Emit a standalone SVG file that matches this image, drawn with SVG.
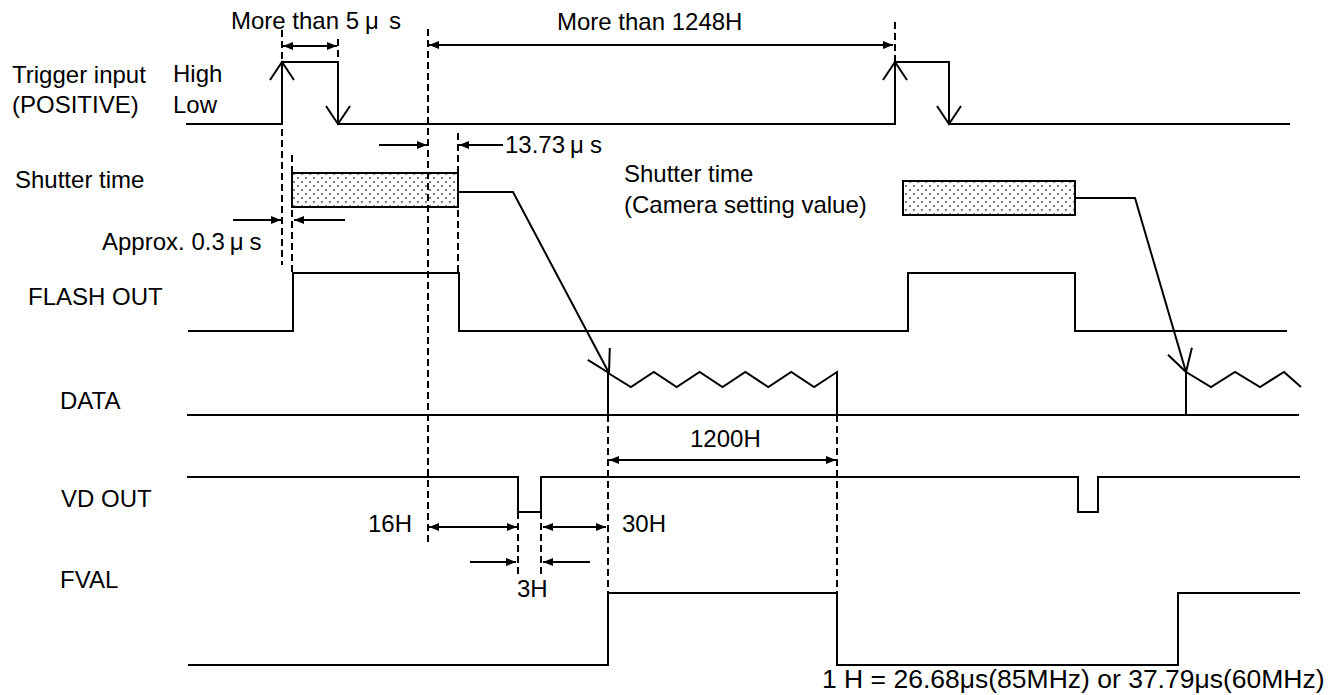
<svg xmlns="http://www.w3.org/2000/svg" width="1344" height="695" viewBox="0 0 1344 695">
<style>
.sig{fill:none;stroke:#000;stroke-width:2;stroke-linejoin:miter}
.thin{fill:none;stroke:#000;stroke-width:2}
.dash{fill:none;stroke:#000;stroke-width:2;stroke-dasharray:7 4}
.dim{fill:none;stroke:#000;stroke-width:2}
.dbl{marker-start:url(#ah);marker-end:url(#ah)}
.one{marker-end:url(#ah)}
text{font-family:"Liberation Sans",Arial,sans-serif;font-size:24px;fill:#000}
.foot{font-size:26.5px}
</style>
<defs>
<marker id="ah" viewBox="0 0 10 8" refX="10" refY="4" markerWidth="10" markerHeight="8" markerUnits="userSpaceOnUse" orient="auto-start-reverse">
<path d="M0,0 L10,4 L0,8 z" fill="#000"/>
</marker>
<pattern id="dots" width="8" height="8" patternUnits="userSpaceOnUse">
<rect width="8" height="8" fill="#fff"/>
<circle cx="2" cy="2" r="0.9" fill="#444"/>
<circle cx="6" cy="6" r="0.9" fill="#444"/>
</pattern>
</defs>
<rect width="1344" height="695" fill="#fff"/>

<g id="labels">
<text x="12" y="83">Trigger input</text>
<text x="12" y="113">(POSITIVE)</text>
<text x="173" y="82">High</text>
<text x="173" y="113">Low</text>
<text x="15" y="188">Shutter time</text>
<text x="28" y="305">FLASH OUT</text>
<text x="60" y="409">DATA</text>
<text x="61" y="507">VD OUT</text>
<text x="60" y="588">FVAL</text>
</g>

<g id="trigger">
<path class="sig" d="M186,124 H282 V62 H338 V124 H895 V62 H949 V124 H1290"/>
<path class="sig" d="M270,80 L282,62 L294,80 M326,106 L338,124 L350,106 M883,80 L895,62 L907,80 M937,106 L949,124 L961,106"/>
</g>

<g id="shutter1">
<rect x="292" y="173" width="166" height="34" fill="url(#dots)" stroke="#000" stroke-width="2"/>
</g>

<g id="shutter2">
<rect x="903" y="181" width="172" height="34" fill="url(#dots)" stroke="#000" stroke-width="2"/>
<text x="624" y="182">Shutter time</text>
<text x="624" y="213">(Camera setting value)</text>
</g>

<g id="flash">
<path class="sig" d="M188,331 H293 V273 H459 V331 H908 V273 H1075 V331 H1287"/>
</g>

<g id="data">
<path class="sig" d="M187,415 H1299"/>
<path class="sig" d="M608,415 V373 L630.9,387 L653.8,372 L676.7,387 L699.6,372 L722.5,387 L745.4,372 L768.3,387 L791.2,372 L814.1,387 L837,372 V415"/>
<path class="sig" d="M1186,415 V372 L1211,387 L1235,372 L1260,387 L1284,372 L1301,387"/>
</g>

<g id="vdout">
<path class="sig" d="M187,477 H518 V512 H541 V477 H1078 V512 H1098 V477 H1300"/>
</g>

<g id="fval">
<path class="sig" d="M188,665 H608 V593 H837 V665 H1178 V593 H1300"/>
</g>

<g id="connectors">
<path class="thin" d="M458,192 H513 L609,373"/>
<path class="thin" d="M587.8,359.8 L609,373 L609.8,348"/>
<path class="thin" d="M1075,198 H1135 L1186,372"/>
<path class="thin" d="M1168,354.7 L1186,372 L1191.9,347.7"/>

<path class="dash" d="M282,30 V265"/>
<path class="dash" d="M292,155 V273"/>
<path class="dash" d="M338,39 V62"/>
<path class="dash" d="M428,29 V542"/>
<path class="dash" d="M458,133 V273"/>
<path class="dash" d="M895,22 V62"/>
<path class="dash" d="M608,415 V593"/>
<path class="dash" d="M837,415 V593"/>
<path class="dash" d="M518,512 V577"/>
<path class="dash" d="M541,512 V577"/>

<path class="dim dbl" d="M283,46 H337"/>
<path class="dim dbl" d="M429,45 H893"/>
<path class="dim one" d="M379,145 H427"/>
<path class="dim one" d="M503,145 H459"/>
<path class="dim one" d="M233,220 H281"/>
<path class="dim one" d="M345,220 H294"/>
<path class="dim dbl" d="M609,460 H836"/>
<path class="dim dbl" d="M429,527 H517"/>
<path class="dim dbl" d="M543,527 H606"/>
<path class="dim one" d="M470,562 H516"/>
<path class="dim one" d="M590,562 H543"/>
</g>

<g id="dimension-labels">
<text x="231" y="29">More than 5<tspan dx="6">μ</tspan><tspan dx="10">s</tspan></text>
<text x="557" y="30">More than 1248H</text>
<text x="505" y="153">13.73<tspan dx="5">μ</tspan><tspan dx="6">s</tspan></text>
<text x="102" y="250">Approx. 0.3<tspan dx="5">μ</tspan><tspan dx="6">s</tspan></text>
<text x="690" y="447">1200H</text>
<text x="368" y="532">16H</text>
<text x="622" y="532">30H</text>
<text x="517" y="597">3H</text>
<text class="foot" x="822" y="688">1 H = 26.68μs(85MHz) or 37.79μs(60MHz)</text>
</g>
</svg>
